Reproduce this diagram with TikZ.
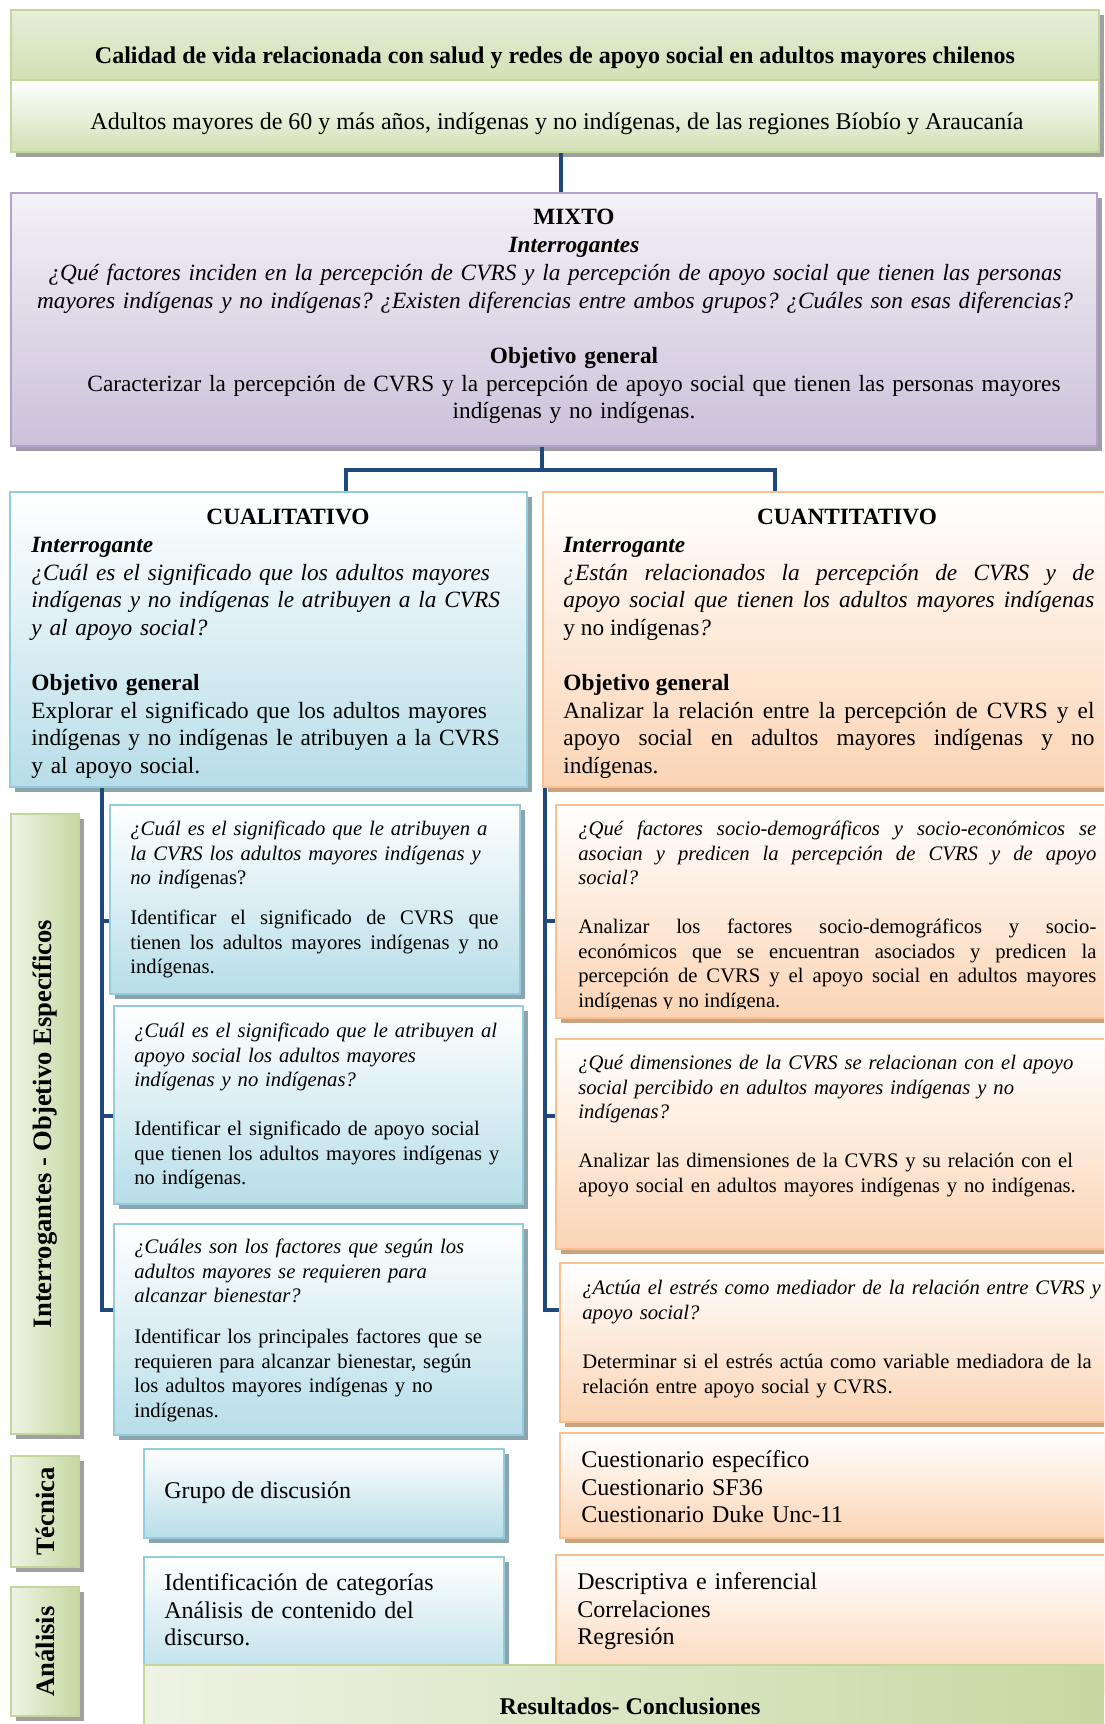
\documentclass[tikz,border=0pt]{standalone}
\usepackage{fontspec}
\setmainfont{Liberation Serif}
\usetikzlibrary{fit}

\definecolor{navy}{HTML}{1F497D}
\definecolor{grnLine}{HTML}{C3D69B}
\definecolor{grnLight}{HTML}{EEF3E4}
\definecolor{grnTop}{HTML}{E6EED8}
\definecolor{grnDeep}{HTML}{D2E0B5}
\definecolor{grnSide}{HTML}{C6D8A1}
\definecolor{purLine}{HTML}{B3A2C7}
\definecolor{purTop}{HTML}{F4F1F7}
\definecolor{purFill}{HTML}{CCC1DA}
\definecolor{bluLine}{HTML}{93CDDD}
\definecolor{bluFill}{HTML}{B7DDE8}
\definecolor{orgLine}{HTML}{FAC090}
\definecolor{orgFill}{HTML}{FBD4B4}
\definecolor{shdGray}{HTML}{A0A0A0}
\definecolor{shdPur}{HTML}{A39DAB}
\definecolor{shdBlu}{HTML}{8CA5AD}
\definecolor{shdOrg}{HTML}{C9A27F}

\hyphenpenalty=10000
\exhyphenpenalty=10000
\frenchspacing

\tikzset{
  conn/.style={draw=navy, line width=1.6pt},
  shadowed/.style={preaction={fill=#1, draw=none,
      transform canvas={shift={(2.5pt,-2.5pt)}}}},
  panel/.style={inner sep=0pt, line width=1.2pt},
  greenband/.style={panel, draw=grnLine, top color=grnTop, bottom color=grnDeep, shadowed=shdGray},
  greenfade/.style={panel, draw=grnLine, top color=white, bottom color=grnDeep, shadowed=shdGray},
  greenside/.style={panel, draw=grnLine, left color=grnLight, right color=grnSide, shadowed=shdGray},
  greenfoot/.style={panel, draw=grnLine, left color=grnLight, right color=grnSide},
  purplebox/.style={panel, draw=purLine, top color=purTop, bottom color=purFill, shadowed=shdPur},
  bluebox/.style={panel, draw=bluLine, top color=white, bottom color=bluFill, shadowed=shdBlu},
  orangebox/.style={panel, draw=orgLine, top color=white, bottom color=orgFill, shadowed=shdOrg},
  bandfont/.style={font=\fontsize{12}{13.75}\selectfont},
  bodyfont/.style={font=\fontsize{11.65}{13.75}\selectfont},
  subfont/.style={font=\fontsize{10.33}{12.25}\selectfont},
  sidefont/.style={font=\fontsize{13.3}{15}\selectfont\bfseries},
  txt/.style={inner sep=0pt, anchor=north west, align=left},
  jtxt/.style={inner sep=0pt, anchor=north west, align=justify},
  ctxt/.style={inner sep=0pt, anchor=north, align=center},
}

\begin{document}
\begin{tikzpicture}[x=0.5pt, y=-0.5pt]
\useasboundingbox (0,0) rectangle (1104,1724);
\clip (0,0) rectangle (1104,1724);

% ---------- header bands ----------
\node[greenband, fit={(11,10) (1099,80)}] (titlebox) {};
\node[greenfade, fit={(11,80) (1099,152)}] (popbox) {};
\node[font=\fontsize{12}{13.75}\selectfont\bfseries, inner sep=0pt, anchor=north] (titletxt) at (555,44)
  {\strut Calidad de vida relacionada con salud y redes de apoyo social en adultos mayores chilenos};
\node[bandfont, inner sep=0pt, anchor=north] (poptxt) at (557,110)
  {\strut Adultos mayores de 60 y más años, indígenas y no indígenas, de las regiones Bíobío y Araucanía};

% ---------- mixed design ----------
\node[purplebox, fit={(11,193) (1097,446)}] (mixto) {};
\node[ctxt, bodyfont, text width=300pt] (mixhead) at (574,205)
  {\strut\textbf{MIXTO}\\ \textbf{\textit{Interrogantes}}};
\node[ctxt, bodyfont, text width=545pt] (mixq) at (555,261)
  {\strut\itshape ¿Qué factores inciden en la percepción de CVRS y la percepción de apoyo social que tienen las personas\\
   mayores indígenas y no indígenas? ¿Existen diferencias entre ambos grupos? ¿Cuáles son esas diferencias?};
\node[ctxt, bodyfont, text width=530pt] (mixobj) at (574,344)
  {\strut\textbf{Objetivo general}\\
   Caracterizar la percepción de CVRS y la percepción de apoyo social que tienen las personas mayores\\
   indígenas y no indígenas.};

% ---------- qualitative / quantitative ----------
\node[bluebox, fit={(10,492) (527,787)}] (cual) {};
\node[orangebox, fit={(543,492) (1115,787)}] (cuant) {};

\node[ctxt, bodyfont] (cualhead) at (288,505) {\strut\textbf{CUALITATIVO}};
\node[txt, bodyfont, text width=255pt] (cualq) at (31,533)
  {\strut\textbf{\textit{Interrogante}}\\
   {\itshape ¿Cuál es el significado que los adultos mayores\\
   indígenas y no indígenas le atribuyen a la CVRS\\
   y al apoyo social?}};
\node[txt, bodyfont, text width=255pt] (cualobj) at (31,671)
  {\strut\textbf{Objetivo general}\\
   Explorar el significado que los adultos mayores\\
   indígenas y no indígenas le atribuyen a la CVRS\\
   y al apoyo social.};

\node[ctxt, bodyfont] (cuanthead) at (847,505) {\strut\textbf{CUANTITATIVO}};
\node[jtxt, bodyfont, text width=265.5pt] (cuantq) at (563,533)
  {\strut\textbf{\textit{Interrogante}}\newline
   {\itshape ¿Están relacionados la percepción de CVRS y de\linebreak
   apoyo social que tienen los adultos mayores indígenas}\linebreak
   y no indígenas\textit{?}};
\node[jtxt, bodyfont, text width=265.5pt] (cuantobj) at (563,671)
  {\strut\textbf{Objetivo general}\newline
   Analizar la relación entre la percepción de CVRS y el\linebreak
   apoyo social en adultos mayores indígenas y no\linebreak
   indígenas.};

% ---------- side labels ----------
\node[greenside, fit={(11,814) (79,1434)}] (lblobj) {};
\node[greenside, fit={(11,1456) (79,1567)}] (lbltec) {};
\node[greenside, fit={(11,1587) (79,1716)}] (lblana) {};
\node[sidefont, rotate=90, inner sep=0pt] (lblobjtxt) at (lblobj.center) {Interrogantes - Objetivo Específicos};
\node[sidefont, rotate=90, inner sep=0pt] (lbltectxt) at (lbltec.center) {Técnica};
\node[sidefont, rotate=90, inner sep=0pt] (lblanatxt) at (lblana.center) {Análisis};

% ---------- specific questions, qualitative ----------
\node[bluebox, fit={(110,805) (520,994)}] (q1) {};
\node[bluebox, fit={(114,1006) (523,1204)}] (q2) {};
\node[bluebox, fit={(114,1224) (523,1435)}] (q3) {};

\node[txt, subfont, text width=200pt] (q1q) at (130,818)
  {\strut{\itshape ¿Cuál es el significado que le atribuyen a\\
   la CVRS los adultos mayores indígenas y\\
   no ind}ígenas?};
\node[jtxt, subfont, text width=184pt] (q1o) at (130,907)
  {\strut Identificar el significado de CVRS que\linebreak
   tienen los adultos mayores indígenas y no\linebreak
   indígenas.};

\node[txt, subfont, text width=200pt] (q2q) at (134,1020)
  {\strut\itshape ¿Cuál es el significado que le atribuyen al\\
   apoyo social los adultos mayores\\
   indígenas y no indígenas?};
\node[txt, subfont, text width=200pt] (q2o) at (134,1118)
  {\strut Identificar el significado de apoyo social\\
   que tienen los adultos mayores indígenas y\\
   no indígenas.};

\node[txt, subfont, text width=200pt] (q3q) at (134,1236)
  {\strut\itshape ¿Cuáles son los factores que según los\\
   adultos mayores se requieren para\\
   alcanzar bienestar?};
\node[txt, subfont, text width=200pt] (q3o) at (134,1326)
  {\strut Identificar los principales factores que se\\
   requieren para alcanzar bienestar, según\\
   los adultos mayores indígenas y no\\
   indígenas.};

% ---------- specific questions, quantitative ----------
\node[orangebox, fit={(556,805) (1115,1018)}] (r1) {};
\node[orangebox, fit={(556,1039) (1115,1249)}] (r2) {};
\node[orangebox, fit={(560,1263) (1115,1422)}] (r3) {};

\node[jtxt, subfont, text width=259pt] (r1q) at (578,818)
  {\strut\itshape ¿Qué factores socio-demográficos y socio-económicos se\linebreak
   asocian y predicen la percepción de CVRS y de apoyo\linebreak
   social?};
\begin{scope}
  \clip (556,805) rectangle (1115,1008);
  \node[jtxt, subfont, text width=259pt] (r1o) at (578,916)
    {\strut Analizar los factores socio-demográficos y socio-\linebreak
     económicos que se encuentran asociados y predicen la\linebreak
     percepción de CVRS y el apoyo social en adultos mayores\linebreak
     indígenas y no indígena.};
\end{scope}

\node[txt, subfont, text width=280pt] (r2q) at (578,1052)
  {\strut\itshape ¿Qué dimensiones de la CVRS se relacionan con el apoyo\\
   social percibido en adultos mayores indígenas y no\\
   indígenas?};
\node[txt, subfont, text width=280pt] (r2o) at (578,1150)
  {\strut Analizar las dimensiones de la CVRS y su relación con el\\
   apoyo social en adultos mayores indígenas y no indígenas.};

\node[txt, subfont, text width=262pt] (r3q) at (582,1277)
  {\strut\itshape ¿Actúa el estrés como mediador de la relación entre CVRS y\\
   apoyo social?};
\node[txt, subfont, text width=262pt] (r3o) at (582,1351)
  {\strut Determinar si el estrés actúa como variable mediadora de la\\
   relación entre apoyo social y CVRS.};

% ---------- technique and analysis ----------
\node[bluebox, fit={(144,1449) (504,1538)}] (tec1) {};
\node[orangebox, fit={(560,1433) (1115,1538)}] (tec2) {};
\node[bluebox, fit={(144,1557) (504,1690)}] (an1) {};
\node[orangebox, fit={(556,1555) (1115,1690)}] (an2) {};

\node[txt, bandfont] (tec1txt) at (164,1479) {\strut Grupo de discusión};
\node[txt, bandfont, text width=260pt] (tec2txt) at (581,1448)
  {\strut Cuestionario específico\\ Cuestionario SF36\\ Cuestionario Duke Unc-11};
\node[txt, bandfont, text width=170pt] (an1txt) at (164,1571)
  {\strut Identificación de categorías\\ Análisis de contenido del\\ discurso.};
\node[txt, bandfont, text width=260pt] (an2txt) at (577,1570)
  {\strut Descriptiva e inferencial\\ Correlaciones\\ Regresión};

% ---------- results ----------
\node[greenfoot, fit={(144,1665) (1115,1740)}] (res) {};
\node[ctxt, bandfont] (restxt) at (630,1695) {\strut\textbf{Resultados- Conclusiones}};

% ---------- connectors ----------
\coordinate (topM) at (561,170);
\coordinate (busM) at (542,470);
\coordinate (busL) at (346,470);
\coordinate (busR) at (775,470);
\draw[conn] (topM |- popbox.south) -- (topM |- mixto.north);
\draw[conn] (busM |- mixto.south) -- (busM);
\draw[conn] (busL |- cual.north) -- (busL) -- (busR) -- (busR |- cuant.north);

\coordinate (brL) at (102,1310);
\coordinate (tL1) at (102,921);
\coordinate (tL2) at (102,1116);
\draw[conn] (brL |- cual.south) -- (brL) -- (brL -| q3.west);
\draw[conn] (tL1) -- (tL1 -| q1.west);
\draw[conn] (tL2) -- (tL2 -| q2.west);

\coordinate (brR) at (545,1310);
\coordinate (tR1) at (545,921);
\coordinate (tR2) at (545,1116);
\draw[conn] (brR |- cuant.south) -- (brR) -- (brR -| r3.west);
\draw[conn] (tR1) -- (tR1 -| r1.west);
\draw[conn] (tR2) -- (tR2 -| r2.west);
\end{tikzpicture}
\end{document}
